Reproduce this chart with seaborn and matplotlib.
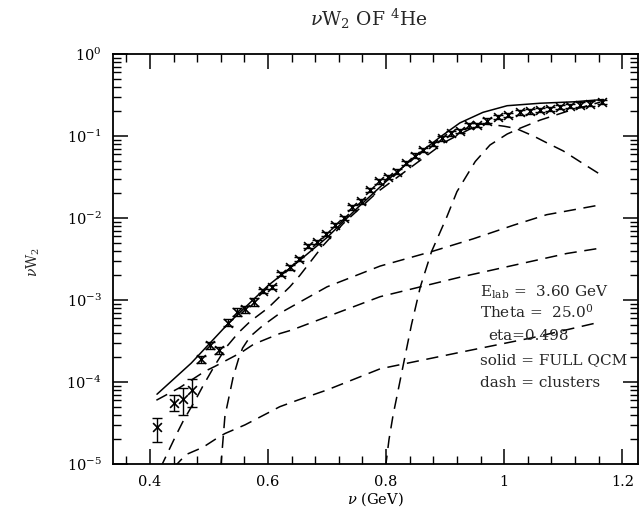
import numpy as np
import pandas as pd
import matplotlib
matplotlib.use("Agg")
import matplotlib.pyplot as plt
from matplotlib.ticker import MultipleLocator, LogLocator, NullFormatter
import seaborn as sns

# ---------------- data ----------------
data_nu = [0.412, 0.441, 0.456, 0.472, 0.486, 0.502, 0.517, 0.533, 0.547, 0.561,
           0.576, 0.592, 0.607, 0.622, 0.637, 0.653, 0.668, 0.683, 0.698, 0.714,
           0.728, 0.742, 0.757, 0.773, 0.788, 0.804, 0.819, 0.834, 0.849, 0.863,
           0.879, 0.894, 0.910, 0.925, 0.940, 0.954, 0.971, 0.990, 1.007, 1.027,
           1.044, 1.061, 1.078, 1.095, 1.112, 1.129, 1.146, 1.166]
data_w2 = [2.8e-5, 5.6e-5, 6.2e-5, 8.0e-5, 1.9e-4, 2.8e-4, 2.45e-4, 5.3e-4, 7.2e-4, 7.7e-4,
           9.5e-4, 1.3e-3, 1.45e-3, 2.1e-3, 2.5e-3, 3.2e-3, 4.6e-3, 5.1e-3, 6.4e-3, 8.2e-3,
           1.0e-2, 1.35e-2, 1.6e-2, 2.2e-2, 2.8e-2, 3.2e-2, 3.7e-2, 4.7e-2, 5.8e-2, 6.8e-2,
           8.0e-2, 9.4e-2, 0.108, 0.116, 0.135, 0.136, 0.155, 0.170, 0.180, 0.195,
           0.200, 0.208, 0.215, 0.225, 0.235, 0.243, 0.250, 0.263]
data_lo = [1.85e-5, 4.4e-5, 4.0e-5, 5.0e-5]
data_hi = [3.6e-5, 6.9e-5, 8.4e-5, 1.1e-4]

full_nu = [0.412, 0.47, 0.533, 0.60, 0.65, 0.70, 0.75, 0.80, 0.85, 0.892, 0.925,
           0.964, 1.005, 1.061, 1.117, 1.168]
full_w2 = [7.1e-5, 1.7e-4, 5.2e-4, 1.5e-3, 2.9e-3, 5.8e-3, 1.3e-2, 2.8e-2, 5.7e-2, 0.098, 0.145,
           0.195, 0.235, 0.252, 0.262, 0.28]

c3q_nu = [0.418, 0.445, 0.456, 0.48, 0.49, 0.51, 0.53, 0.55, 0.57, 0.60, 0.637, 0.654,
          0.693, 0.727, 0.786, 0.85, 0.90, 0.94, 0.96, 0.98, 1.0, 1.02, 1.05, 1.072,
          1.10, 1.13, 1.163]
c3q_w2 = [9e-6, 2.3e-5, 3.3e-5, 6.6e-5, 9e-5, 1.6e-4, 2.7e-4, 4.0e-4, 5.5e-4, 8.0e-4, 1.45e-3,
          2.0e-3, 4.6e-3, 8.5e-3, 2.1e-2, 4.6e-2, 8.5e-2, 0.12, 0.14, 0.138, 0.132, 0.124,
          0.10, 0.083, 0.066, 0.048, 0.034]

inel_nu = [0.799, 0.805, 0.812, 0.818, 0.829, 0.843, 0.858, 0.877, 0.903, 0.92, 0.951,
           0.976, 1.005, 1.027, 1.061, 1.106, 1.163]
inel_w2 = [9e-6, 2e-5, 4e-5, 6.5e-5, 1.6e-4, 5e-4, 1.45e-3, 3.9e-3, 1.04e-2, 2.1e-2, 4.9e-2,
           0.078, 0.106, 0.125, 0.157, 0.20, 0.26]

c6q_nu = [0.520, 0.527, 0.541, 0.55, 0.557, 0.57, 0.59, 0.62, 0.70, 0.79, 0.877, 0.948,
          1.016, 1.072, 1.163]
c6q_w2 = [9e-6, 3.8e-5, 1.15e-4, 1.9e-4, 2.6e-4, 3.6e-4, 4.8e-4, 6.9e-4, 1.45e-3, 2.6e-3,
          3.9e-3, 5.6e-3, 8.2e-3, 1.1e-2, 1.45e-2]

c9q_nu = [0.411, 0.45, 0.493, 0.51, 0.555, 0.576, 0.62, 0.64, 0.79, 0.925, 1.106, 1.163]
c9q_w2 = [6e-5, 8.5e-5, 1.35e-4, 1.55e-4, 2.3e-4, 2.9e-4, 3.9e-4, 4.3e-4, 1.1e-3, 1.9e-3,
          3.7e-3, 4.3e-3]

c12q_nu = [0.440, 0.461, 0.49, 0.513, 0.527, 0.561, 0.60, 0.62, 0.65, 0.70, 0.79, 0.925,
           1.05, 1.163]
c12q_w2 = [9e-6, 1.3e-5, 1.6e-5, 2.05e-5, 2.35e-5, 3.0e-5, 4.2e-5, 5.0e-5, 6.0e-5, 8.0e-5,
           1.45e-4, 2.3e-4, 3.5e-4, 5.4e-4]

x_ticks = [0.4, 0.6, 0.8, 1.0, 1.2]
x_ticklabels = ["0.4", "0.6", "0.8", "1", "1.2"]

# ---------------- style ----------------
sns.set_theme(style="ticks")
plt.rcParams["font.family"] = ["DejaVu Serif"]
plt.rcParams["mathtext.fontset"] = "dejavuserif"
plt.rcParams["lines.dashed_pattern"] = [8, 5]

fig = plt.figure(figsize=(6.44, 5.11), dpi=100)
ax = fig.add_axes([0.175, 0.092, 0.816, 0.802])

# data points with error bars
rel = [0.10 if v < 1e-3 else 0.06 for v in data_w2]
err_lo = [v - l for v, l in zip(data_w2[:4], data_lo)] + [v * r for v, r in zip(data_w2[4:], rel[4:])]
err_hi = [h - v for v, h in zip(data_w2[:4], data_hi)] + [v * r for v, r in zip(data_w2[4:], rel[4:])]
ax.errorbar(data_nu, data_w2, yerr=[err_lo, err_hi], fmt="none", ecolor="black",
            elinewidth=1.0, capsize=3.5, capthick=1.0, zorder=3)
sns.scatterplot(x=data_nu, y=data_w2, marker="x", color="black", s=40, linewidth=1.2,
                ax=ax, zorder=4, legend=False)

# full QCM (solid)
sns.lineplot(x=full_nu, y=full_w2, color="black", linewidth=1.1, ax=ax,
             estimator=None, legend=False)

# clusters (dashed)
for nu, w in [(c3q_nu, c3q_w2), (inel_nu, inel_w2), (c6q_nu, c6q_w2),
              (c9q_nu, c9q_w2), (c12q_nu, c12q_w2)]:
    sns.lineplot(x=nu, y=w, color="black", linewidth=1.1, linestyle="--", ax=ax,
                 estimator=None, legend=False)

ax.set_yscale("log")
ax.set_ylim(1e-5, 1)
ax.set_xlim(0.337, 1.227)

ax.set_xticks(x_ticks)
ax.set_xticklabels(x_ticklabels)
ax.xaxis.set_minor_locator(MultipleLocator(0.04))
ax.yaxis.set_major_locator(LogLocator(base=10, numticks=10))
ax.yaxis.set_minor_locator(LogLocator(base=10, subs=np.arange(2, 10), numticks=20))
ax.yaxis.set_minor_formatter(NullFormatter())

ax.tick_params(which="major", direction="in", length=11, width=1.1, top=True, right=True,
               labelsize=10.5, pad=8, color="black", labelcolor="black")
ax.tick_params(which="minor", direction="in", length=6, width=1.0, top=True, right=True,
               color="black")
for s in ax.spines.values():
    s.set_linewidth(1.3)
    s.set_color("black")

ax.set_xlabel(r"$\nu$ (GeV)", fontsize=10.5, labelpad=1, color="black")
ax.set_ylabel("")
fig.text(0.052, 0.487, r"$\nu$W$_2$", rotation=90, fontsize=10, ha="center", va="center")
fig.text(0.572, 0.963, r"$\nu$W$_2$ OF $^4$He", fontsize=13.5, ha="center", va="center")

tx = 0.699
fs = 11
ax.text(tx, 0.420, r"E$_{\mathrm{lab}}$ =  3.60 GeV", transform=ax.transAxes, fontsize=fs,
        va="center", ha="left")
ax.text(tx, 0.371, r"Theta =  25.0$^0$", transform=ax.transAxes, fontsize=fs,
        va="center", ha="left")
ax.text(0.715, 0.312, "eta=0.498", transform=ax.transAxes, fontsize=fs,
        va="center", ha="left")
ax.text(tx, 0.254, "solid = FULL QCM", transform=ax.transAxes, fontsize=fs,
        va="center", ha="left")
ax.text(tx, 0.198, "dash = clusters", transform=ax.transAxes, fontsize=fs,
        va="center", ha="left")

fig.savefig("out.png", dpi=100)
